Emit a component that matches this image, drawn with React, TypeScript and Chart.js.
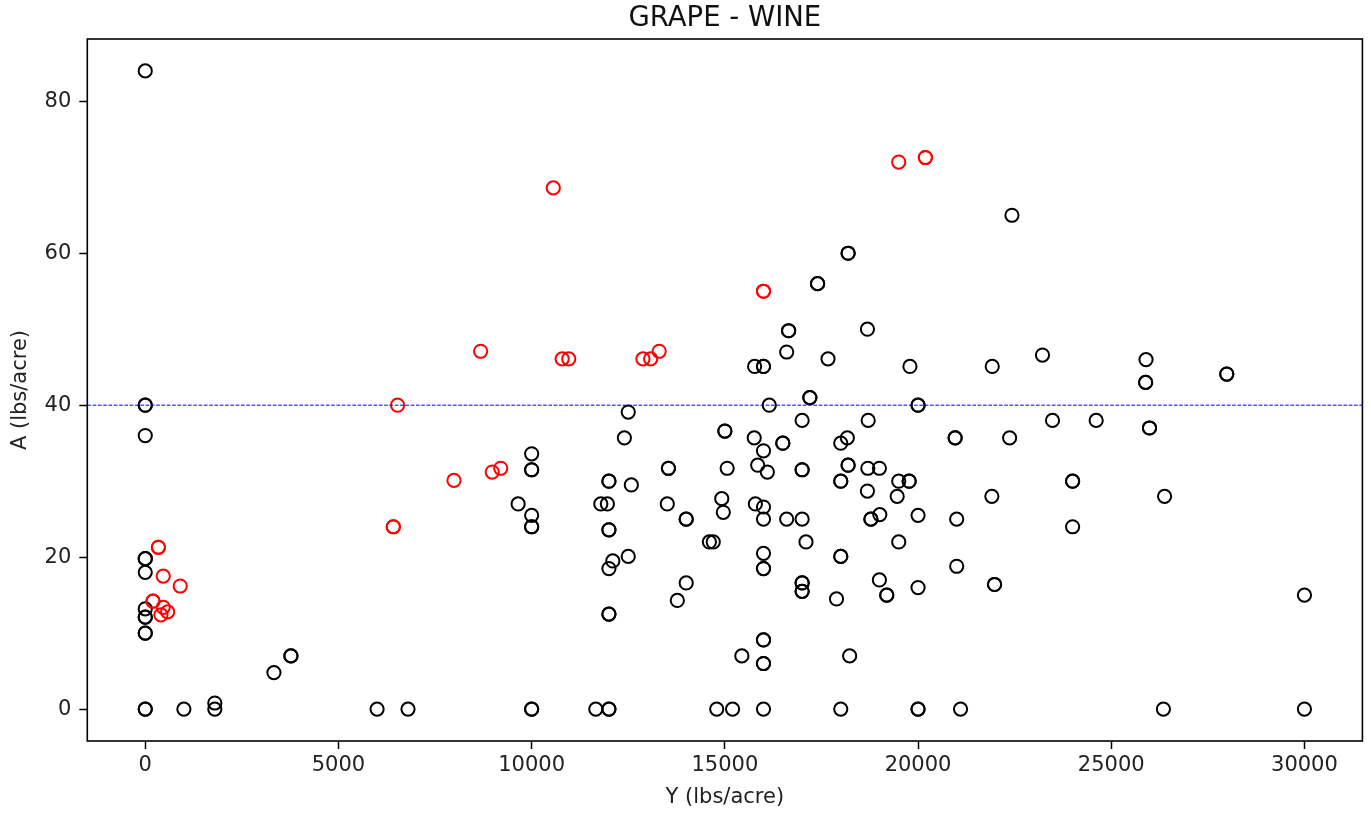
import React, { useEffect, useRef } from "react";
import { Chart, registerables } from "chart.js";

Chart.register(...registerables);

const titleText = "GRAPE - WINE";
const xLabel = "Y (lbs/acre)";
const yLabel = "A (lbs/acre)";

const xTicks = [0, 5000, 10000, 15000, 20000, 25000, 30000];
const yTicks = [0, 20, 40, 60, 80];
const thresholdA = 40;

const blackX = [
  0, 0, 0, 0, 0, 0, 0, 0, 0, 0, 0, 0, 0, 0,
  1000, 1800, 1800, 3330, 3770, 3770, 6000, 6800,
  10000, 10000, 10000, 10000, 10000, 10000, 10000, 10000,
  9650, 12500, 12400, 12000, 12000, 12580, 11790, 11960,
  12000, 12000, 12500, 12100, 12000, 12000, 12000, 11660, 12000, 12000,
  13540, 13540, 13510, 14000, 14000, 14000, 13770, 14600, 14700,
  15000, 15000, 14920, 14960, 15060, 14790, 15200,
  15760, 16000, 16500, 16500, 15850, 16100, 15790, 16000, 16000, 16600, 17000,
  16000, 16000, 16000, 16000, 16000, 15440, 16000, 16000, 16000,
  16000, 16000, 15770, 16150, 16600, 16650, 16650,
  17000, 17200, 17200, 17400, 17400, 17670,
  17000, 17000, 17100, 17000, 17000, 17000, 17000,
  18000, 18170, 18190, 18190, 18000, 18000, 18000, 18000, 17890, 18230, 18000,
  18190, 18190,
  18690, 18710, 18700, 19000, 18690, 18780, 18780, 19010, 19000, 19190, 19190,
  19500, 19770, 19770, 19460, 19500,
  19790, 20000, 20000, 20000, 20000, 20000, 20000,
  20960, 20960, 21000, 21000, 21100,
  21920, 22430, 22370, 21910, 21980, 21980,
  23220, 23480, 24000, 24000, 24000, 24610,
  25900, 25890, 25890, 25990, 25990, 26380, 26350,
  27990, 27990,
  30000, 30000,
];

const blackY = [
  84.0, 40, 40, 36, 19.8, 19.8, 18, 13.2, 12.1, 12.1, 10, 10, 0, 0,
  0, 0.8, 0, 4.8, 7.0, 7.0, 0, 0,
  33.6, 31.5, 31.5, 25.5, 24, 24, 0, 0,
  27.0, 39.1, 35.7, 30, 30, 29.5, 27, 27,
  23.6, 23.6, 20.1, 19.5, 18.5, 12.5, 12.5, 0, 0, 0,
  31.7, 31.7, 27, 25, 25, 16.6, 14.3, 22, 22,
  36.6, 36.6, 27.7, 25.9, 31.7, 0, 0,
  35.7, 34, 35, 35, 32.1, 31.2, 27, 26.6, 25, 25, 25,
  20.5, 18.5, 18.5, 9.1, 9.1, 7, 6, 6, 0,
  45.1, 45.1, 45.1, 40, 47, 49.8, 49.8,
  38, 41, 41, 56, 56, 46.1,
  31.5, 31.5, 22, 16.6, 16.6, 15.5, 15.5,
  35, 35.7, 32.1, 32.1, 30, 30, 20.1, 20.1, 14.5, 7, 0,
  60, 60,
  50, 38, 31.7, 31.7, 28.7, 25, 25, 25.6, 17, 15, 15,
  30, 30, 30, 28, 22,
  45.1, 40, 40, 25.5, 16, 0, 0,
  35.7, 35.7, 25, 18.8, 0,
  45.1, 65, 35.7, 28, 16.4, 16.4,
  46.6, 38, 30, 30, 24, 38,
  46, 43, 43, 37, 37, 28, 0,
  44.1, 44.1,
  15, 0,
];

const redX = [
  340, 340, 465, 905, 200, 200, 465, 405, 580,
  6530, 6420, 6420, 7990, 8980, 9200,
  8680, 10560, 10790, 10960, 12880, 13080, 13300,
  16000, 16000, 19500, 20190, 20190,
];

const redY = [
  21.3, 21.3, 17.5, 16.2, 14.2, 14.2, 13.4, 12.4, 12.8,
  40, 24, 24, 30.1, 31.2, 31.7,
  47.1, 68.6, 46.1, 46.1, 46.1, 46.1, 47.1,
  55, 55, 72, 72.6, 72.6,
];

const toPoints = (xs: number[], ys: number[]) => xs.map((x, i) => ({ x, y: ys[i] }));

const frame = {
  id: "frame",
  afterDraw(chart: any) {
    const { ctx, chartArea } = chart;
    ctx.save();
    ctx.strokeStyle = "#000";
    ctx.lineWidth = 1.6;
    ctx.strokeRect(chartArea.left, chartArea.top, chartArea.right - chartArea.left, chartArea.bottom - chartArea.top);
    ctx.restore();
  },
};

export default function App() {
  const ref = useRef<HTMLCanvasElement | null>(null);

  useEffect(() => {
    if (!ref.current) return;
    const tickFont = { family: "DejaVu Sans", size: 21 };
    const labelFont = { family: "DejaVu Sans", size: 21 };
    const chart = new Chart(ref.current, {
      type: "scatter",
      data: {
        datasets: [
          {
            type: "line",
            label: "threshold",
            data: [
              { x: -1500, y: thresholdA },
              { x: 31500, y: thresholdA },
            ],
            borderColor: "#0000ff",
            borderWidth: 1,
            borderDash: [3.7, 1.6],
            pointRadius: 0,
            fill: false,
          } as any,
          {
            label: "red",
            data: toPoints(redX, redY),
            borderColor: "#ff0000",
            backgroundColor: "rgba(0,0,0,0)",
            pointRadius: 6.6,
            borderWidth: 2,
            pointStyle: "circle",
          },
          {
            label: "black",
            data: toPoints(blackX, blackY),
            borderColor: "#000000",
            backgroundColor: "rgba(0,0,0,0)",
            pointRadius: 6.6,
            borderWidth: 2,
            pointStyle: "circle",
          },
        ],
      },
      options: {
        responsive: false,
        animation: false,
        events: [],
        layout: { padding: { left: 0, right: 8, top: 0, bottom: 0 } },
        plugins: {
          legend: { display: false },
          tooltip: { enabled: false },
          title: {
            display: true,
            fullSize: false,
            text: titleText,
            color: "#111",
            font: { family: "DejaVu Sans", size: 27.5, weight: "normal" },
            padding: { top: 2.5, bottom: 3.5 },
          },
        },
        scales: {
          x: {
            type: "linear",
            min: -1500,
            max: 31500,
            afterBuildTicks: (s: any) => {
              s.ticks = xTicks.map((v) => ({ value: v }));
            },
            afterFit: (s: any) => {
              s.height = 73;
            },
            ticks: {
              callback: (v: any) => String(v),
              font: tickFont,
              color: "#222",
              padding: 4,
              maxRotation: 0,
              autoSkip: false,
            },
            grid: { drawOnChartArea: false, drawTicks: true, tickLength: 8, tickColor: "#000", tickWidth: 1.5 },
            border: { display: false },
            title: { display: true, text: xLabel, font: labelFont, color: "#222", padding: { top: 0, bottom: 4 } },
          },
          y: {
            type: "linear",
            min: -4.2,
            max: 88.2,
            afterBuildTicks: (s: any) => {
              s.ticks = yTicks.map((v) => ({ value: v }));
            },
            afterFit: (s: any) => {
              s.width = 87.3;
            },
            ticks: {
              callback: (v: any) => String(v),
              font: tickFont,
              color: "#222",
              padding: 8,
              autoSkip: false,
            },
            grid: { drawOnChartArea: false, drawTicks: true, tickLength: 8, tickColor: "#000", tickWidth: 1.5 },
            border: { display: false },
            title: { display: true, text: yLabel, font: labelFont, color: "#222", padding: { top: 8, bottom: 0 } },
          },
        },
      },
      plugins: [frame],
    } as any);
    return () => chart.destroy();
  }, []);

  return (
    <div style={{ position: "fixed", left: 0, top: 0, width: 1371, height: 814, background: "#fff" }}>
      <canvas ref={ref} width={1371} height={814} style={{ display: "block" }} />
    </div>
  );
}
